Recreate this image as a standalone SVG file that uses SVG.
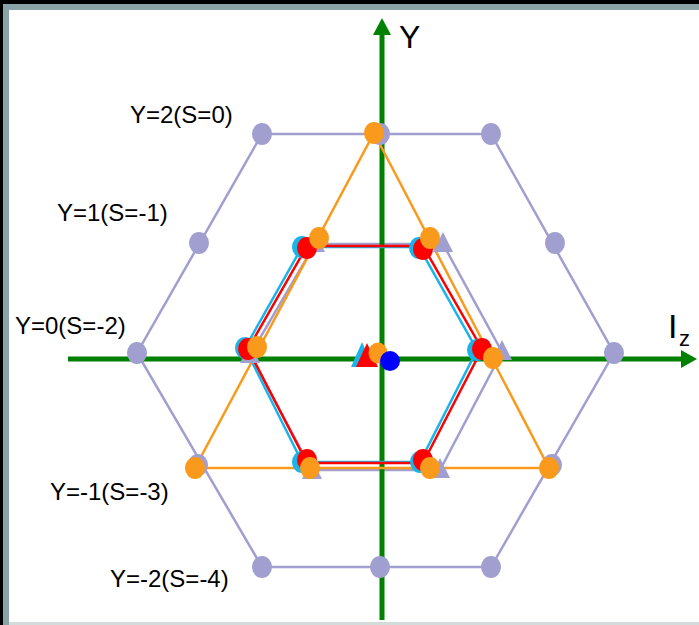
<svg xmlns="http://www.w3.org/2000/svg" width="699" height="625" viewBox="0 0 699 625">
<style>
.lav{fill:none;stroke:#a09fcf;stroke-width:2.5}
.lavd{fill:#a09fcf}
.cy{fill:none;stroke:#18b4ec;stroke-width:2.5}
.cyd{fill:#18b4ec}
.rd{fill:none;stroke:#ff0000;stroke-width:2.5}
.rdd{fill:#ff0000}
.or{fill:none;stroke:#f99a1c;stroke-width:2.5}
.ord{fill:#f99a1c}
.ax{stroke:#008000;stroke-width:5;fill:none}
.axh{fill:#008000}
.lbl{font-family:"Liberation Sans",Arial,sans-serif;font-size:24px;fill:#000}
</style>
<rect x="0" y="0" width="699" height="625" fill="#000"/>
<rect x="3" y="4" width="696" height="621" fill="#8aa3a6"/>
<rect x="9" y="10" width="690" height="612" fill="#fff"/>
<rect x="9" y="622" width="690" height="3" fill="#d3dbdb"/>

<g id="connectors">
  <polygon class="lav" points="262,134 491,134 614,353 491,567 262,567 137,353"/>
  <polygon class="lav" points="315,244 443,244 502,352 440,470 312,470 250,355"/>
  <line class="ax" x1="68" y1="359" x2="684" y2="359"/>
  <polygon class="axh" points="697,359 681,350 681,368"/>
  <line class="ax" x1="382" y1="620" x2="382" y2="33"/>
  <polygon class="axh" points="382,18 373,35 391,35"/>
  <polygon class="cy" points="302,247 419,247 477,350 420,462 302,462 245,348"/>
  <polygon class="rd" points="307,246 423,246 482,349 423,463 307,463 248,349"/>
  <polygon class="or" points="374,133 549,468 195,468"/>
</g>

<g id="outer-dots">
  <ellipse id="n-y2-a" class="lavd" cx="262" cy="134" rx="10" ry="11"/>
  <ellipse id="n-y2-b" class="lavd" cx="380" cy="134" rx="10" ry="11"/>
  <ellipse id="n-y2-c" class="lavd" cx="491" cy="134" rx="10" ry="11"/>
  <ellipse id="n-y1-a" class="lavd" cx="199" cy="243" rx="10" ry="11"/>
  <ellipse id="n-y1-b" class="lavd" cx="555" cy="243" rx="10" ry="11"/>
  <ellipse id="n-y0-a" class="lavd" cx="137" cy="353" rx="10" ry="11"/>
  <ellipse id="n-y0-b" class="lavd" cx="614" cy="353" rx="10" ry="11"/>
  <ellipse id="n-ym1-a" class="lavd" cx="198" cy="465" rx="10" ry="11"/>
  <ellipse id="n-ym1-b" class="lavd" cx="552" cy="465" rx="10" ry="11"/>
  <ellipse id="n-ym2-a" class="lavd" cx="262" cy="567" rx="10" ry="11"/>
  <ellipse id="n-ym2-b" class="lavd" cx="380" cy="567" rx="10" ry="11"/>
  <ellipse id="n-ym2-c" class="lavd" cx="491" cy="567" rx="10" ry="11"/>
</g>

<g id="lavender-triangles">
  <polygon class="lavd" points="315,232 305,252 325,252"/>
  <polygon class="lavd" points="443,232 433,252 453,252"/>
  <polygon class="lavd" points="502,340 492,360 512,360"/>
  <polygon class="lavd" points="440,458 430,478 450,478"/>
  <polygon class="lavd" points="312,459 302,479 322,479"/>
  <polygon class="lavd" points="250,343 240,363 260,363"/>
</g>

<g id="cyan-dots">
  <ellipse class="cyd" cx="302" cy="247" rx="10" ry="11"/>
  <ellipse class="cyd" cx="419" cy="248" rx="10" ry="11"/>
  <ellipse class="cyd" cx="477" cy="350" rx="10" ry="11"/>
  <ellipse class="cyd" cx="420" cy="462" rx="10" ry="11"/>
  <ellipse class="cyd" cx="302" cy="462" rx="10" ry="11"/>
  <ellipse class="cyd" cx="245" cy="348" rx="10" ry="11"/>
  <polygon id="n-center-cyan" class="cyd" points="362,342 351,367 373,367"/>
</g>

<g id="red-dots">
  <ellipse class="rdd" cx="307" cy="248" rx="10" ry="11"/>
  <ellipse class="rdd" cx="423" cy="249" rx="10" ry="11"/>
  <ellipse class="rdd" cx="482" cy="349" rx="10" ry="11"/>
  <ellipse class="rdd" cx="423" cy="460" rx="10" ry="11"/>
  <ellipse class="rdd" cx="307" cy="460" rx="10" ry="11"/>
  <ellipse class="rdd" cx="248" cy="349" rx="10" ry="11"/>
  <polygon id="n-center-red" class="rdd" points="367,343 356,367 378,367"/>
</g>

<g id="orange-dots">
  <ellipse class="ord" cx="374" cy="133" rx="10" ry="11"/>
  <ellipse class="ord" cx="319" cy="238" rx="10" ry="11"/>
  <ellipse class="ord" cx="430" cy="238" rx="10" ry="11"/>
  <ellipse class="ord" cx="257" cy="347" rx="10" ry="11"/>
  <ellipse class="ord" cx="493" cy="358" rx="10" ry="11"/>
  <ellipse class="ord" cx="195" cy="468" rx="10" ry="11"/>
  <ellipse class="ord" cx="310" cy="468" rx="10" ry="11"/>
  <ellipse class="ord" cx="430" cy="468" rx="10" ry="11"/>
  <ellipse class="ord" cx="549" cy="468" rx="10" ry="11"/>
  <ellipse id="n-center-orange" class="ord" cx="378" cy="353" rx="9.5" ry="10.5"/>
</g>

<g id="n-center-blue">
  <circle cx="390" cy="361" r="10" fill="#0000ff"/>
</g>

<g id="labels">
  <text class="lbl" x="130" y="123">Y=2(S=0)</text>
  <text class="lbl" x="57" y="221">Y=1(S=-1)</text>
  <text class="lbl" x="15" y="334">Y=0(S=-2)</text>
  <text class="lbl" x="50" y="500">Y=-1(S=-3)</text>
  <text class="lbl" x="110" y="587">Y=-2(S=-4)</text>
  <text class="lbl" x="399" y="48" style="font-size:32px">Y</text>
  <text class="lbl" x="668" y="338" style="font-size:34px">I<tspan x="679" y="346" style="font-size:22px">z</tspan></text>
</g>
</svg>
